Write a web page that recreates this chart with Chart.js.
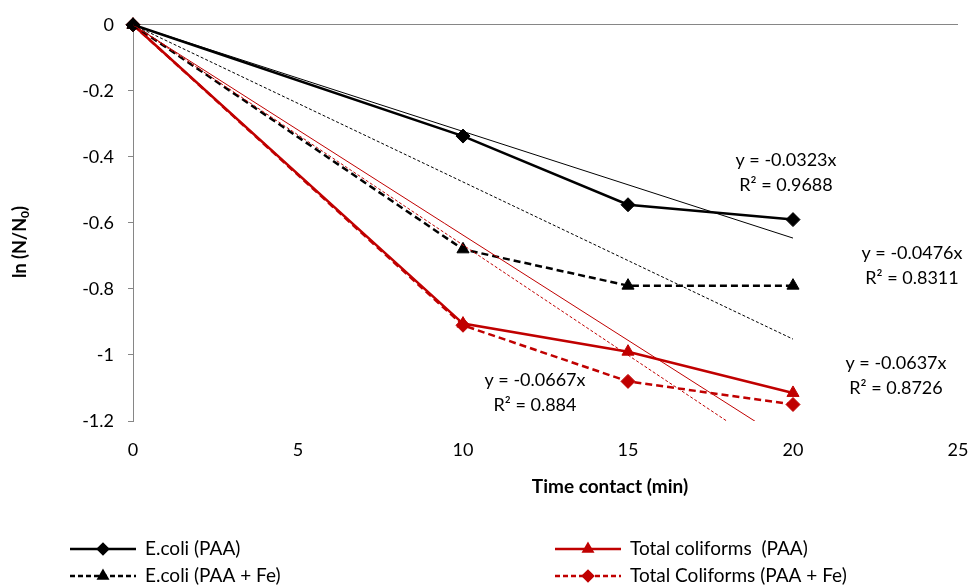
<!DOCTYPE html>
<html>
<head>
<meta charset="utf-8">
<script src="https://cdn.jsdelivr.net/npm/chart.js@4"></script>
<style>
	html, body { margin: 0; padding: 0; background: #fff; }
	canvas { display: block; }
</style>
</head>
<body>
<canvas id="chart" width="969" height="588"></canvas>
<script>
// contact time (min)
const timeMin = [0, 10, 15, 20];

// ln(N/N0)
const ecoliPAA = [0, -0.337, -0.545, -0.59];
const ecoliPAAFe = [0, -0.68, -0.79, -0.79];
const coliformsPAA = [0, -0.905, -0.99, -1.115];
const coliformsPAAFe = [0, -0.91, -1.08, -1.15];

const seriesLabels = ["E.coli (PAA)", "E.coli (PAA + Fe)", "Total coliforms  (PAA)", "Total Coliforms (PAA + Fe)"];

// linear trendlines through origin, as printed on the chart
const trendSlopes = [-0.0323, -0.0476, -0.0637, -0.0667];
const trendR2 = ["0.9688", "0.8311", "0.8726", "0.884"];
const trendRange = [0, 20];

const yTicks = [0, -0.2, -0.4, -0.6, -0.8, -1, -1.2];

const BLACK = "#000000";
const RED = "#C00000";
const AXIS = "#868686";
const FONT = 'Lato, "Open Sans", sans-serif';

const toPoints = (ys) => ys.map((y, i) => ({x: timeMin[i], y: y}));
const trendPoints = (slope) => trendRange.map(x => ({x: x, y: slope * x}));

const styles = [
	{color: BLACK, dash: [], marker: "rectRot", trendDash: []},
	{color: BLACK, dash: [7, 4], marker: "triangle", trendDash: [3, 2]},
	{color: RED, dash: [], marker: "triangle", trendDash: []},
	{color: RED, dash: [7, 4], marker: "rectRot", trendDash: [3, 2]}
];
const seriesValues = [ecoliPAA, ecoliPAAFe, coliformsPAA, coliformsPAAFe];

const datasets = [];
// trendlines first so the data lines sit on top
trendSlopes.forEach((slope, i) => {
	datasets.push({
		label: "trend " + i,
		data: trendPoints(slope),
		borderColor: styles[i].color,
		borderWidth: 1,
		borderDash: styles[i].trendDash,
		pointRadius: 0,
		fill: false
	});
});
seriesValues.forEach((vals, i) => {
	datasets.push({
		label: seriesLabels[i],
		data: toPoints(vals),
		borderColor: styles[i].color,
		backgroundColor: styles[i].color,
		borderWidth: 2.5,
		borderDash: styles[i].dash,
		pointStyle: styles[i].marker,
		pointRadius: 7,
		pointBorderWidth: 1,
		pointBorderColor: styles[i].color,
		pointBackgroundColor: styles[i].color,
		fill: false,
		clip: false
	});
});

// equations next to the lines (pixel positions of text centres)
const eqPos = [
	{x: 786, y: 160},
	{x: 912, y: 253},
	{x: 896, y: 363},
	{x: 535, y: 380}
];

const extrasPlugin = {
	id: "extras",
	afterDraw(chart) {
		const ctx = chart.ctx;
		ctx.save();

		// trendline equations
		ctx.fillStyle = BLACK;
		ctx.font = "18px " + FONT;
		ctx.textAlign = "center";
		ctx.textBaseline = "middle";
		trendSlopes.forEach((slope, i) => {
			const p = eqPos[i];
			ctx.fillText("y = " + slope + "x", p.x, p.y);
			ctx.fillText("R\u00B2 = " + trendR2[i], p.x, p.y + 25);
		});

		// x axis title
		ctx.font = "bold 19px " + FONT;
		ctx.fillText("Time contact (min)", 610, 487);

		// y axis title with subscript
		ctx.save();
		ctx.translate(20, 242);
		ctx.rotate(-Math.PI / 2);
		const a = "ln (N/N", b = "0", c = ")";
		ctx.font = "bold 18px " + FONT;
		const wa = ctx.measureText(a).width, wc = ctx.measureText(c).width;
		ctx.font = "bold 12px " + FONT;
		const wb = ctx.measureText(b).width;
		let x0 = -(wa + wb + wc) / 2;
		ctx.textAlign = "left";
		ctx.font = "bold 18px " + FONT;
		ctx.fillText(a, x0, 0);
		ctx.font = "bold 12px " + FONT;
		ctx.fillText(b, x0 + wa, 5);
		ctx.font = "bold 18px " + FONT;
		ctx.fillText(c, x0 + wa + wb, 0);
		ctx.restore();

		// legend
		const cols = [70, 555];
		const rows = [549, 576];
		const order = [0, 2, 1, 3];
		order.forEach((si, k) => {
			const lx = cols[k % 2];
			const ly = rows[Math.floor(k / 2)];
			const st = styles[si];
			ctx.strokeStyle = st.color;
			ctx.fillStyle = st.color;
			ctx.lineWidth = 2.5;
			ctx.setLineDash(st.dash.length ? [5, 3] : []);
			ctx.beginPath();
			ctx.moveTo(lx, ly);
			ctx.lineTo(lx + 66, ly);
			ctx.stroke();
			ctx.setLineDash([]);
			Chart.helpers.drawPoint(ctx, {pointStyle: st.marker, radius: 5, rotation: 0, borderWidth: 1}, lx + 33, ly);
			ctx.fillStyle = BLACK;
			ctx.font = "19px " + FONT;
			ctx.textAlign = "left";
			ctx.textBaseline = "middle";
			ctx.fillText(seriesLabels[si], lx + 75, ly);
		});
		ctx.restore();
	}
};

new Chart(document.getElementById("chart"), {
	type: "line",
	data: {datasets: datasets},
	options: {
		responsive: false,
		devicePixelRatio: 1,
		animation: false,
		layout: {padding: {left: 0, top: 24, right: 0, bottom: 0}},
		plugins: {
			legend: {display: false},
			tooltip: {enabled: false}
		},
		scales: {
			x: {
				type: "linear",
				min: 0,
				max: 25,
				ticks: {stepSize: 5, padding: 18, color: BLACK, font: {size: 18, family: FONT}},
				grid: {display: false, drawTicks: false},
				border: {display: false},
				afterFit: s => {
					s.height = 167;
					s.paddingLeft = 0;
					s.paddingRight = 11;
				}
			},
			y: {
				type: "linear",
				min: -1.2,
				max: 0,
				afterBuildTicks: s => { s.ticks = yTicks.map(v => ({value: v})); },
				ticks: {
					padding: 14,
					color: BLACK,
					font: {size: 18, family: FONT},
					callback: v => String(Number(v.toFixed(1)))
				},
				grid: {
					color: c => (c.tick && c.tick.value === 0) ? AXIS : "rgba(0,0,0,0)",
					tickColor: AXIS,
					tickLength: 5,
					lineWidth: 1
				},
				border: {display: true, color: AXIS, width: 1},
				afterFit: s => { s.width = 133; }
			}
		}
	},
	plugins: [extrasPlugin]
});
</script>
</body>
</html>
